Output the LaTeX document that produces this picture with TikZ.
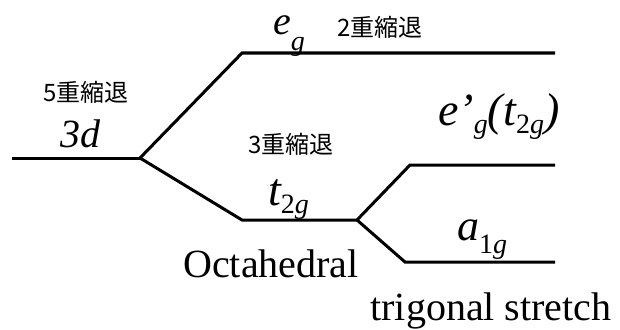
\documentclass[tikz,border=0pt]{standalone}
\usepackage{fontspec}
\setmainfont{Liberation Serif}[ItalicFont={Liberation Serif Italic}]
\newfontfamily\jpfont{Noto Sans CJK JP}
\newcommand{\lo}[2]{\raisebox{-#1pt}{\fontsize{28}{30}\selectfont #2}}

\begin{document}
\begin{tikzpicture}[x=1pt, y=-1pt,
        lvl/.style={line width=3pt, line join=miter},
        sym/.style={font=\fontsize{40}{48}\selectfont\itshape, inner sep=0pt, anchor=base west},
        big/.style={sym, font=\fontsize{46}{54}\selectfont\itshape},
        degen/.style={font=\jpfont\fontsize{24}{28}\selectfont, inner sep=0pt},
        caption/.style={font=\fontsize{40}{48}\selectfont, inner sep=0pt, anchor=base}]
        \useasboundingbox (0,0) rectangle (620,329);
        \coordinate (d3L) at (12,158);  \coordinate (d3R) at (140,158);
        \coordinate (egL) at (242,53);  \coordinate (egR) at (555,53);
        \coordinate (t2L) at (242,220); \coordinate (t2R) at (357,220);
        \coordinate (epL) at (410,165); \coordinate (epR) at (555,165);
        \coordinate (a1L) at (405,262); \coordinate (a1R) at (555,262);
        \draw[lvl] (d3L) -- (d3R);
        \foreach \a/\b in {d3R/eg, d3R/t2, t2R/ep, t2R/a1}
          \draw[lvl] (\a) -- (\b L) -- (\b R);
        \node[sym] (n3d) at (60,147) {3d};
        \node[sym] (neg) at (273,35) {e\lo{15}{g}};
        \node[big] (nep) at (438,125) {e’\lo{8}{g}(t\lo{8}{{\upshape 2}g})};
        \node[big] (nt2) at (268,205) {t\lo{8}{{\upshape 2}g}};
        \node[sym, font=\fontsize{44}{52}\selectfont\itshape] (na1) at (457,240) {a\lo{13}{{\upshape 1}g}};
        \node[degen] (g5) at (86,92)  {5重縮退};
        \node[degen] (g2) at (380,27) {2重縮退};
        \node[degen] (g3) at (291,144) {3重縮退};
        \node[caption] (oct) at (271,277) {Octahedral};
        \node[caption] (tri) at (491,320) {trigonal stretch};
      \end{tikzpicture}
\end{document}
